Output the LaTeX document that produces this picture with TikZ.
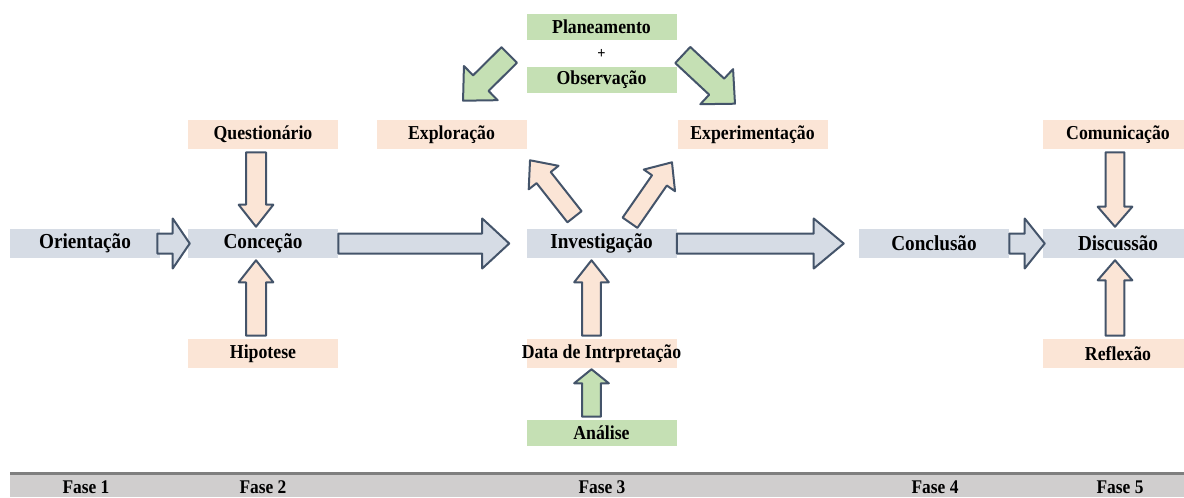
\documentclass[tikz,border=0pt]{standalone}
\usepackage{fontspec}
\setmainfont{Liberation Serif}[FakeStretch=0.9]
\usetikzlibrary{calc,positioning}

\definecolor{boxblue}{HTML}{D6DCE5}
\definecolor{boxpink}{HTML}{FBE5D6}
\definecolor{boxgreen}{HTML}{C5E0B4}
\definecolor{arrowedge}{HTML}{44546A}
\definecolor{bargray}{HTML}{D0CECE}
\definecolor{barline}{HTML}{7F7F7F}

% block arrow: fill, shaft half width, head half width, head length, from, to
\newcommand{\blockarrow}[6]{%
  \draw[arrowedge, line width=1.5pt, line join=round, fill=#1]
    let \p1=($#6-#5$), \n1={atan2(\y1,\x1)}, \n2={veclen(\x1,\y1)} in
    [shift={#5}, rotate=\n1]
    (0pt,-#2) -- (\n2*1pt-#4,-#2) -- (\n2*1pt-#4,-#3) -- (\n2*1pt,0pt)
    -- (\n2*1pt-#4,#3) -- (\n2*1pt-#4,#2) -- (0pt,#2) -- cycle;}

\begin{document}
\begin{tikzpicture}[x=0.75pt,y=-0.75pt,
box/.style = {% label boxes
    inner sep=0pt, minimum width=112.5pt, minimum height=21.75pt,
    font=\bfseries\fontsize{14.8}{16}\selectfont,
            },
stage/.style = {box, fill=boxblue, font=\bfseries\fontsize{16}{18}\selectfont},
side/.style  = {box, fill=boxpink},
extra/.style = {box, fill=boxgreen, minimum height=19.5pt},
fase/.style  = {font=\bfseries\fontsize{14.5}{16}\selectfont},
                    ]

 \useasboundingbox (0,0) rectangle (1184,497);
 \clip (0,0) rectangle (1184,497);

 % phase bar
 \fill[bargray] (10,474) rectangle (1184,497);
 \draw[barline, line width=2.25pt] (10,473) -- (1184,473);

 % main stages
 \node[stage] (ori)   at (85,243.5)    {Orientação};
 \node[stage] (conc)  at (263,243.5)   {Conceção};
 \node[stage] (inv)   at (601.5,243.5) {Investigação};
 \node[stage] (concl) at (934,243.5)   {Conclusão};
 \node[stage] (disc)  at (1118,243.5)  {Discussão};

 % side boxes
 \node[side] (quest) at (263,134.5)   {Questionário};
 \node[side] (expl)  at (451.5,134.5) {Exploração};
 \node[side] (expe)  at (752.5,134.5) {Experimentação};
 \node[side] (comu)  at (1118,134.5)  {Comunicação};
 \node[side] (hip)   at (263,353.5)   {Hipotese};
 \node[side] (data)  at (601.5,353.5) {\makebox[0pt]{Data de Intrpretação}};
 \node[side] (refl)  at (1118,353.5)  {Reflexão};

 \node[extra] (plan) at (601.5,27)  {Planeamento};
 \node[font=\bfseries\fontsize{12}{14}\selectfont] (plus) at (601.5,54) {+};
 \node[extra] (obs)  at (601.5,80)  {Observação};
 \node[extra] (anal) at (601.5,433) {Análise};

 % phases
 \node[fase] (f1) at (86,487)   {Fase 1};
 \node[fase] (f2) at (263,487)  {Fase 2};
 \node[fase] (f3) at (602,487)  {Fase 3};
 \node[fase] (f4) at (935,487)  {Fase 4};
 \node[fase] (f5) at (1120,487) {Fase 5};

 % horizontal arrows
 \blockarrow{boxblue}{7.5pt}{18.75pt}{12.75pt}{($(ori.east)+(-3,0)$)}{($(conc.west)+(2,0)$)}
 \blockarrow{boxblue}{7.5pt}{18.75pt}{20.25pt}{(conc.east)}{($(inv.west)+(-17,0)$)}
 \blockarrow{boxblue}{7.5pt}{18.75pt}{22.5pt}{(inv.east)}{($(concl.west)+(-15,0)$)}
 \blockarrow{boxblue}{7.5pt}{18.75pt}{15pt}{(concl.east)}{($(disc.west)+(2,0)$)}

 % vertical arrows
 \blockarrow{boxpink}{7.5pt}{13pt}{16.5pt}{($(quest.south)+(-7,3)$)}{($(conc.north)+(-7,-2)$)}
 \blockarrow{boxpink}{7.5pt}{13pt}{16.5pt}{($(hip.north)+(-7,-3)$)}{($(conc.south)+(-7,2)$)}
 \blockarrow{boxpink}{7pt}{13pt}{15pt}{($(comu.south)+(-3,3)$)}{($(disc.north)+(-3,-2)$)}
 \blockarrow{boxpink}{7pt}{13pt}{15pt}{($(refl.north)+(-3,-3)$)}{($(disc.south)+(-3,2)$)}
 \blockarrow{boxpink}{7pt}{13pt}{16.5pt}{($(data.north)+(-10,-3)$)}{($(inv.south)+(-10,2)$)}
 \blockarrow{boxgreen}{7pt}{13pt}{10.5pt}{($(anal.north)+(-10,-3)$)}{($(data.south)+(-10,1)$)}

 % diagonal arrows
 \blockarrow{boxpink}{6.75pt}{14.25pt}{16.5pt}{($(inv.north)+(-27,-12)$)}{($(expl.south)+(78.5,11)$)}
 \blockarrow{boxpink}{6.75pt}{14.25pt}{16.5pt}{($(inv.north)+(28.5,-6)$)}{($(expe.south)+(-80.5,13)$)}
 \blockarrow{boxgreen}{8.25pt}{18pt}{18.75pt}{($(obs.west)+(-17,-25)$)}{($(expl.north)+(11.5,-19)$)}
 \blockarrow{boxgreen}{8.25pt}{18pt}{18.75pt}{($(obs.east)+(6,-25)$)}{($(expe.north)+(-17.5,-16)$)}

\end{tikzpicture}
\end{document}
